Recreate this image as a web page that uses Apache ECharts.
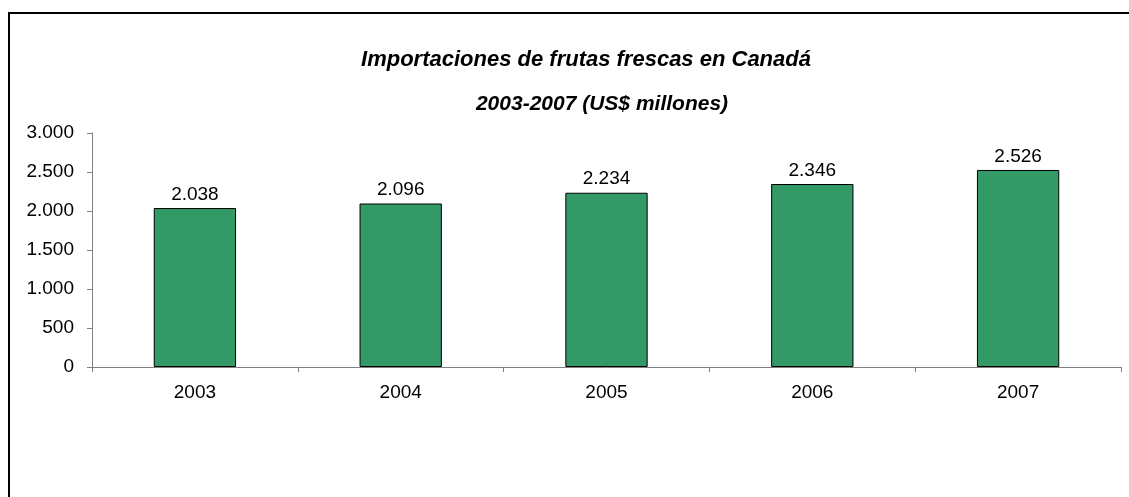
<!DOCTYPE html>
<html>
<head>
<meta charset="utf-8">
<script src="https://cdn.jsdelivr.net/npm/echarts@6/dist/echarts.min.js"></script>
<style>
html,body{margin:0;padding:0;background:#fff;}
#chart{width:1129px;height:497px;}
</style>
</head>
<body>
<div id="chart"></div>
<script>
const categories = ['2003', '2004', '2005', '2006', '2007'];
const values = [2038, 2096, 2234, 2346, 2526];
const titleLines = ['Importaciones de frutas frescas en Canadá', '2003-2007 (US$ millones)'];

function fmt(v) {
  return String(v).replace(/\B(?=(\d{3})+(?!\d))/g, '.');
}

const chart = echarts.init(document.getElementById('chart'), null, {renderer: 'canvas'});
const font = '"Liberation Sans", Arial, sans-serif';
chart.setOption({
  animation: false,
  backgroundColor: '#fff',
  title: [
    {text: titleLines[0], left: 581, top: 44, textAlign: 'center',
     textStyle: {fontFamily: font, fontSize: 22, fontWeight: 'bold', fontStyle: 'italic', color: '#000'}},
    {text: titleLines[1], left: 597, top: 89, textAlign: 'center',
     textStyle: {fontFamily: font, fontSize: 21, fontWeight: 'bold', fontStyle: 'italic', color: '#000'}}
  ],
  graphic: [
    {type: 'polyline', shape: {points: [[9, 497], [9, 13], [1129, 13]]},
     style: {stroke: '#000', lineWidth: 2, fill: null}}
  ],
  grid: {left: 92, right: 8, top: 133, bottom: 130},
  xAxis: {
    type: 'category', data: categories,
    axisLine: {lineStyle: {color: '#808080', width: 1}},
    axisTick: {show: true, alignWithLabel: false, length: 5, lineStyle: {color: '#808080'}},
    axisLabel: {fontFamily: font, fontSize: 19, color: '#000', margin: 16}
  },
  yAxis: {
    type: 'value', min: 0, max: 3000, interval: 500,
    axisLine: {show: true, lineStyle: {color: '#808080', width: 1}},
    axisTick: {show: true, length: 5, lineStyle: {color: '#808080'}},
    splitLine: {show: false},
    axisLabel: {fontFamily: font, fontSize: 19, color: '#000', margin: 18, formatter: fmt}
  },
  series: [{
    type: 'bar', data: values, barCategoryGap: '60%',
    itemStyle: {color: '#339966', borderColor: '#000', borderWidth: 1},
    label: {show: true, position: 'top', distance: 4, fontFamily: font, fontSize: 19, color: '#000',
      formatter: p => fmt(p.value)}
  }]
});
</script>
</body>
</html>
